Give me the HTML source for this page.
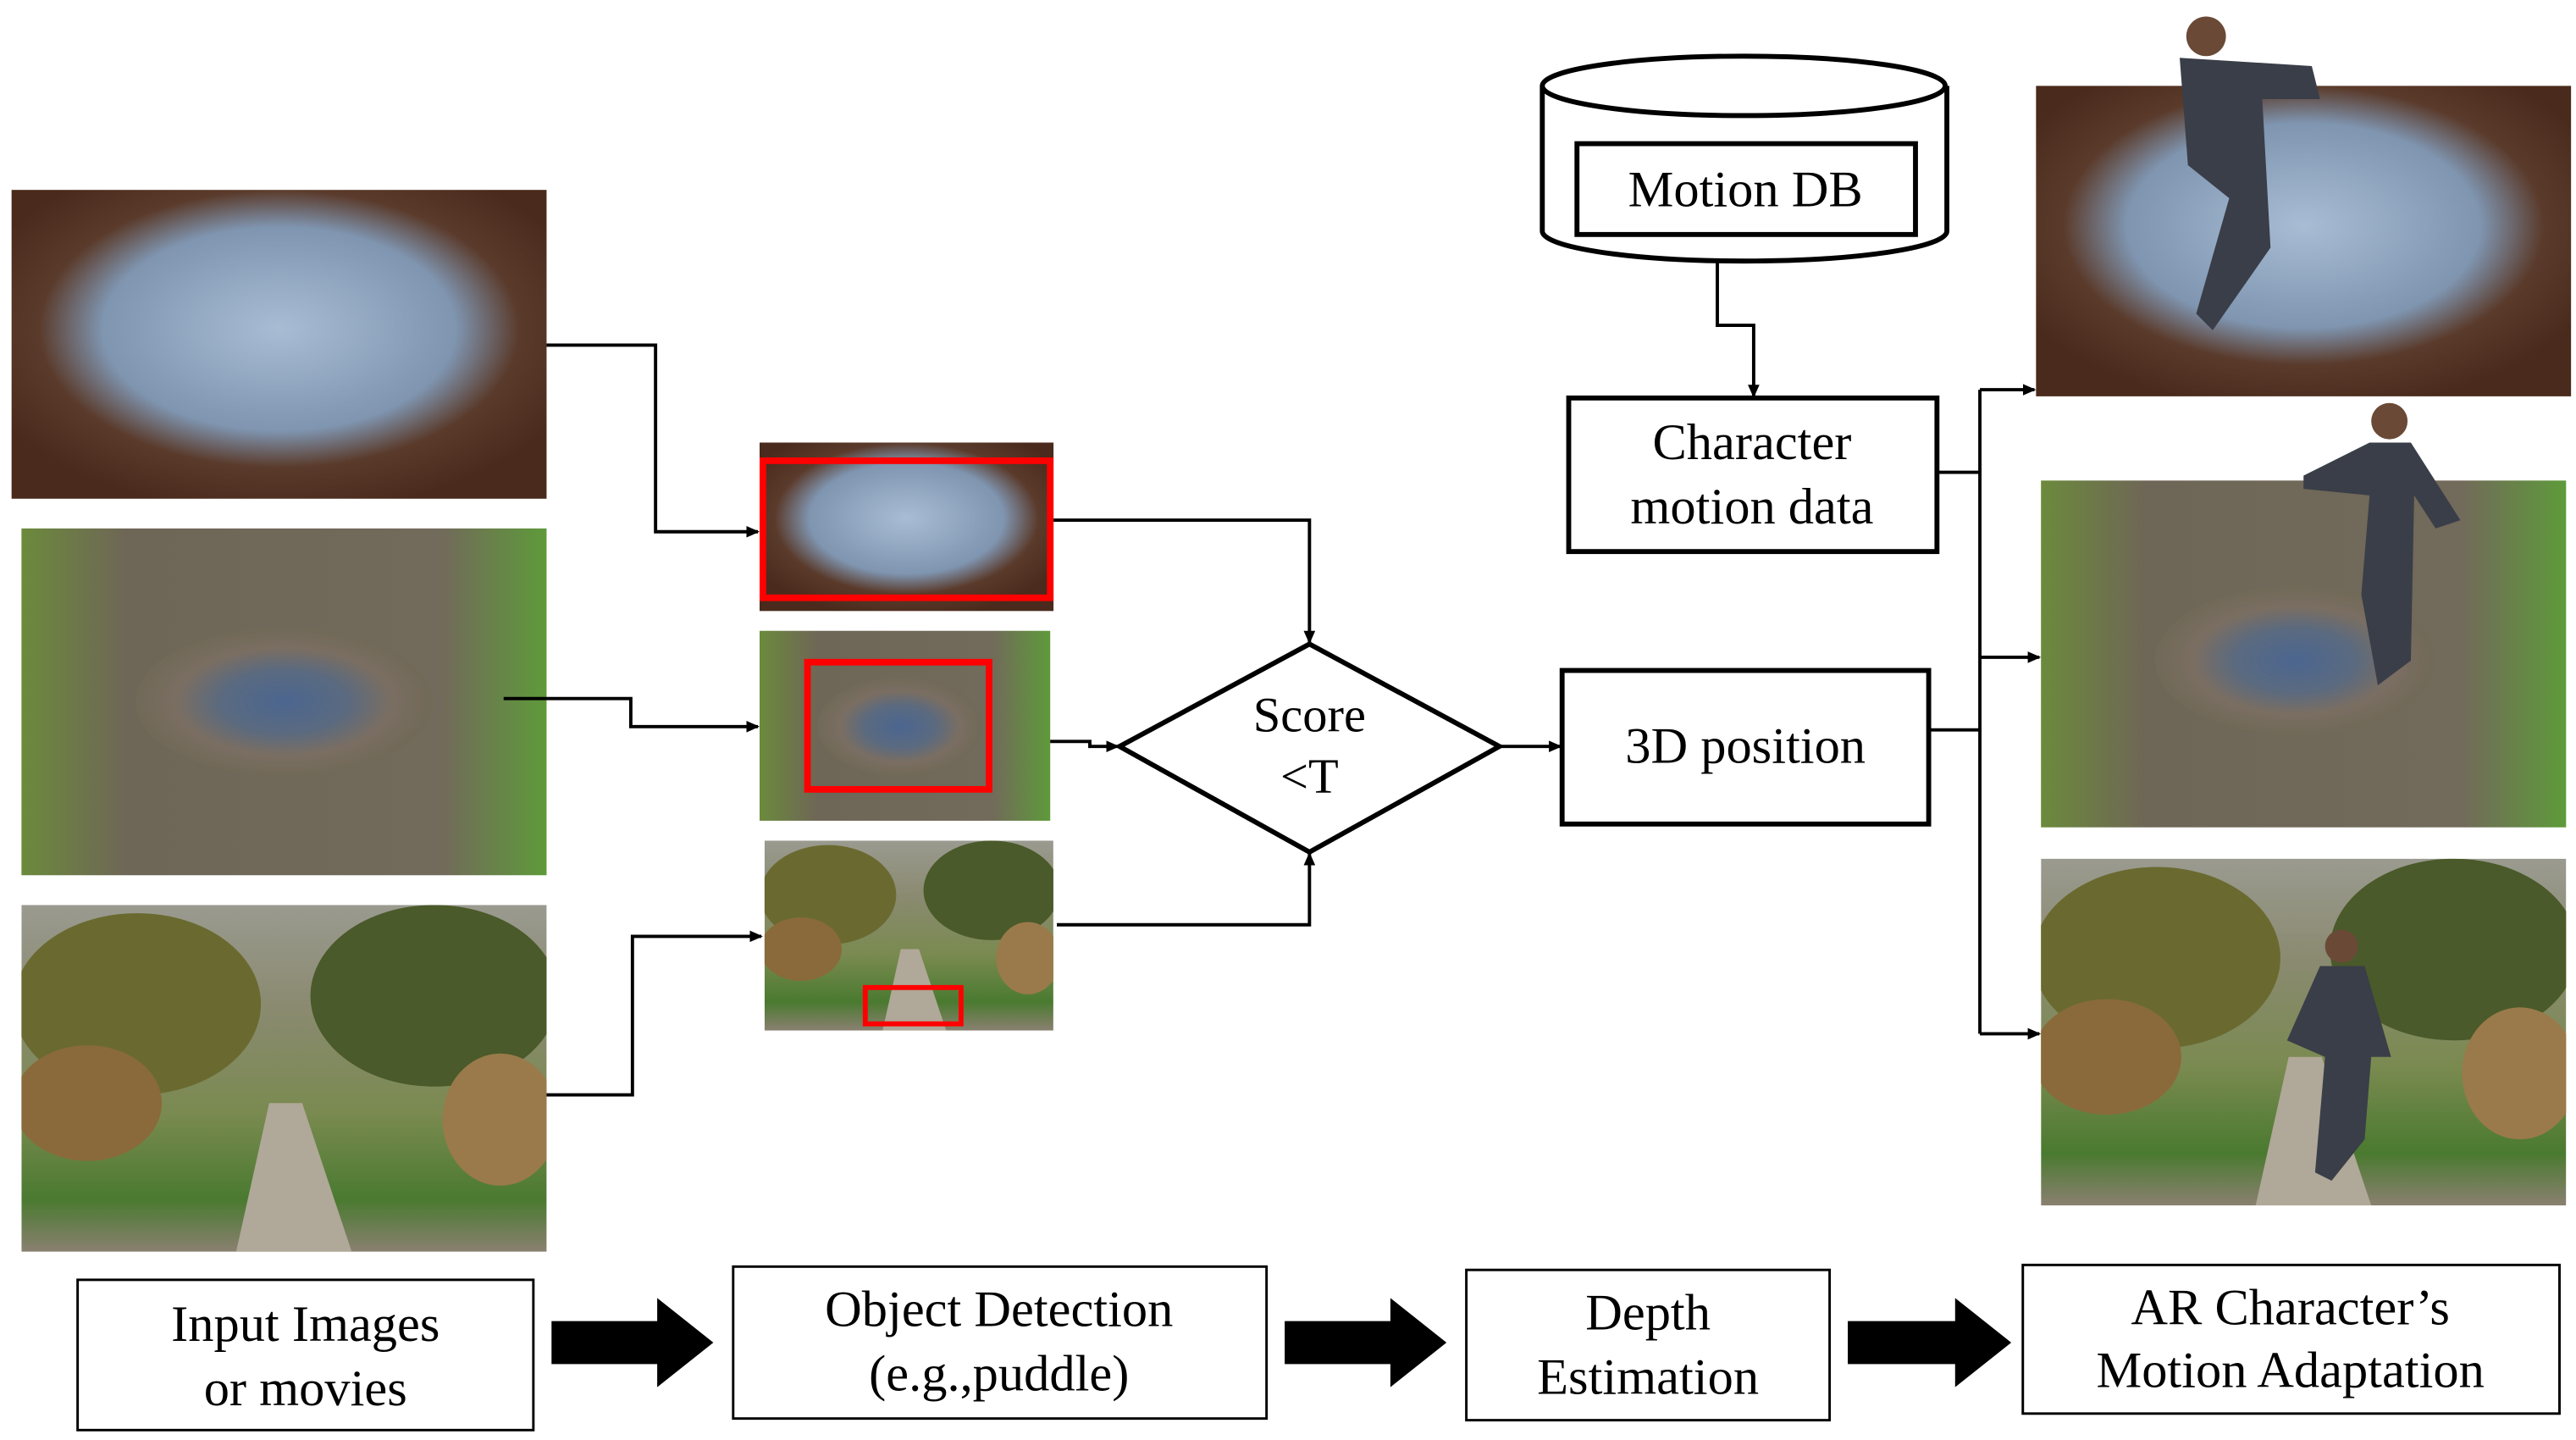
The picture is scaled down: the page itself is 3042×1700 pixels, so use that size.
<!DOCTYPE html>
<html><head><style>html,body{margin:0;padding:0;background:#fff}svg{display:block}</style></head>
<body>
<svg width="3042" height="1700" viewBox="0 0 1560 872" preserveAspectRatio="none" xmlns="http://www.w3.org/2000/svg" font-family="Liberation Serif, serif">
<defs>
<marker id="a" markerWidth="8" markerHeight="8" refX="7" refY="4" orient="auto" markerUnits="userSpaceOnUse"><path d="M0,0.5 L8,4 L0,7.5z" fill="#000"/></marker>
<radialGradient id="p1" cx="0.5" cy="0.45" r="0.6"><stop offset="0" stop-color="#a8bcd4"/><stop offset="0.55" stop-color="#7f95b0"/><stop offset="0.75" stop-color="#5a3a2a"/><stop offset="1" stop-color="#4a2a1c"/></radialGradient>
<radialGradient id="p2" cx="0.5" cy="0.5" r="0.6"><stop offset="0" stop-color="#4c6690"/><stop offset="0.35" stop-color="#5a6a80"/><stop offset="0.6" stop-color="#7a6e62"/><stop offset="1" stop-color="#6a6650"/></radialGradient>
<linearGradient id="g2" x1="0" x2="1"><stop offset="0" stop-color="#6c8a3c"/><stop offset="0.2" stop-color="#6e6656"/><stop offset="0.8" stop-color="#726a5a"/><stop offset="1" stop-color="#5e9a3a"/></linearGradient>
<linearGradient id="p3" x1="0" y1="0" x2="0" y2="1"><stop offset="0" stop-color="#9a9a90"/><stop offset="0.3" stop-color="#8a8a70"/><stop offset="0.6" stop-color="#7a8a50"/><stop offset="0.85" stop-color="#4a7a30"/><stop offset="1" stop-color="#8a8070"/></linearGradient>
<clipPath id="tc"><rect width="318" height="210"/></clipPath>
<g id="trees" clip-path="url(#tc)">
<rect width="318" height="210" fill="url(#p3)"/>
<ellipse cx="70" cy="60" rx="75" ry="55" fill="#6a6a30"/>
<ellipse cx="250" cy="55" rx="75" ry="55" fill="#4a5a2a"/>
<ellipse cx="40" cy="120" rx="45" ry="35" fill="#8a6a3a"/>
<ellipse cx="290" cy="130" rx="35" ry="40" fill="#9a7a4a"/>
<path d="M130,210 L150,120 L170,120 L200,210z" fill="#b0a898"/>
</g>
</defs>
<rect width="1560" height="872" fill="#fff"/>
<rect x="7" y="115" width="324" height="187" fill="url(#p1)"/>
<rect x="13" y="320" width="318" height="210" fill="url(#g2)"/>
<ellipse cx="172" cy="425" rx="90" ry="45" fill="url(#p2)"/>
<use href="#trees" x="13" y="548"/>
<rect x="460" y="268" width="178" height="102" fill="url(#p1)"/>
<rect x="462" y="279" width="174" height="83" fill="none" stroke="#f00" stroke-width="4"/>
<rect x="460" y="382" width="176" height="115" fill="url(#g2)"/>
<ellipse cx="545" cy="440" rx="50" ry="30" fill="url(#p2)"/>
<rect x="489" y="401" width="110" height="77" fill="none" stroke="#f00" stroke-width="4"/>
<use href="#trees" transform="translate(463,509) scale(0.55,0.548)"/>
<rect x="524" y="598" width="58" height="22" fill="none" stroke="#f00" stroke-width="3"/>
<rect x="1233" y="52" width="324" height="188" fill="url(#p1)"/>
<rect x="1236" y="291" width="318" height="210" fill="url(#g2)"/>
<ellipse cx="1390" cy="400" rx="85" ry="45" fill="url(#p2)"/>
<use href="#trees" x="1236" y="520"/>
<g fill="#3a3e48">
<circle cx="1336" cy="22" r="12" fill="#6a4a36"/><path d="M1320,35 L1400,40 L1405,60 L1370,60 L1375,150 L1340,200 L1330,190 L1350,120 L1325,100z"/>
<circle cx="1447" cy="255" r="11" fill="#6a4a36"/><path d="M1435,268 L1460,268 L1490,315 L1475,320 L1462,300 L1460,400 L1440,415 L1430,360 L1435,300 L1395,296 L1395,288z"/>
<circle cx="1418" cy="573" r="10" fill="#6a4a36"/><path d="M1405,585 L1432,585 L1448,640 L1436,640 L1432,690 L1412,715 L1402,710 L1408,640 L1385,630z"/>
</g>
<g fill="none" stroke="#000" stroke-width="2">
<path d="M331,209 H397 V322 H459" marker-end="url(#a)"/>
<path d="M305,423 H382 V440 H459" marker-end="url(#a)"/>
<path d="M331,663 H383 V567 H461" marker-end="url(#a)"/>
<path d="M638,315 H793 V389" marker-end="url(#a)"/>
<path d="M636,449 H660 V452 H677" marker-end="url(#a)"/>
<path d="M640,560 H793 V517" marker-end="url(#a)"/>
<path d="M908,452 H945" marker-end="url(#a)"/>
<path d="M1040,150 V197 H1062 V240" marker-end="url(#a)"/>
<path d="M1173,286 H1199"/>
<path d="M1168,442 H1199"/>
<path d="M1199,236 V626"/>
<path d="M1199,236 H1232" marker-end="url(#a)"/>
<path d="M1199,398 H1235" marker-end="url(#a)"/>
<path d="M1199,626 H1235" marker-end="url(#a)"/>
</g>
<path d="M678,452 L793,390 L908,452 L793,516z" fill="#fff" stroke="#000" stroke-width="3"/>
<text x="793" y="443" font-size="30" text-anchor="middle">Score</text>
<text x="793" y="480" font-size="30" text-anchor="middle">&lt;T</text>
<g fill="#fff" stroke="#000" stroke-width="3">
<rect x="946" y="406" width="222" height="93"/>
<rect x="950" y="241" width="223" height="93"/>
<path d="M934,52 V140 A122,18 0 0 0 1179,140 V52"/>
<ellipse cx="1056" cy="52" rx="122" ry="18"/>
<rect x="955" y="87" width="205" height="55"/>
</g>
<g font-size="31" text-anchor="middle">
<text x="1057" y="462">3D position</text>
<text x="1061" y="278">Character</text>
<text x="1061" y="317">motion data</text>
<text x="1057" y="125">Motion DB</text>
</g>
<g fill="#fff" stroke="#000" stroke-width="1.5">
<rect x="47" y="775" width="276" height="91"/>
<rect x="444" y="767" width="323" height="92"/>
<rect x="888" y="769" width="220" height="91"/>
<rect x="1225" y="766" width="325" height="90"/>
</g>
<g font-size="31" text-anchor="middle">
<text x="185" y="812">Input Images</text><text x="185" y="851">or movies</text>
<text x="605" y="803">Object Detection</text><text x="605" y="842">(e.g.,puddle)</text>
<text x="998" y="805">Depth</text><text x="998" y="844">Estimation</text>
<text x="1387" y="802">AR Character’s</text><text x="1387" y="840">Motion Adaptation</text>
</g>
<g fill="#000">
<path d="M334,800 H398 V786 L432,813 L398,840 V826 H334z"/>
<path d="M778,800 H842 V786 L876,813 L842,840 V826 H778z"/>
<path d="M1119,800 H1184 V786 L1218,813 L1184,840 V826 H1119z"/>
</g>
</svg>
</body></html>
